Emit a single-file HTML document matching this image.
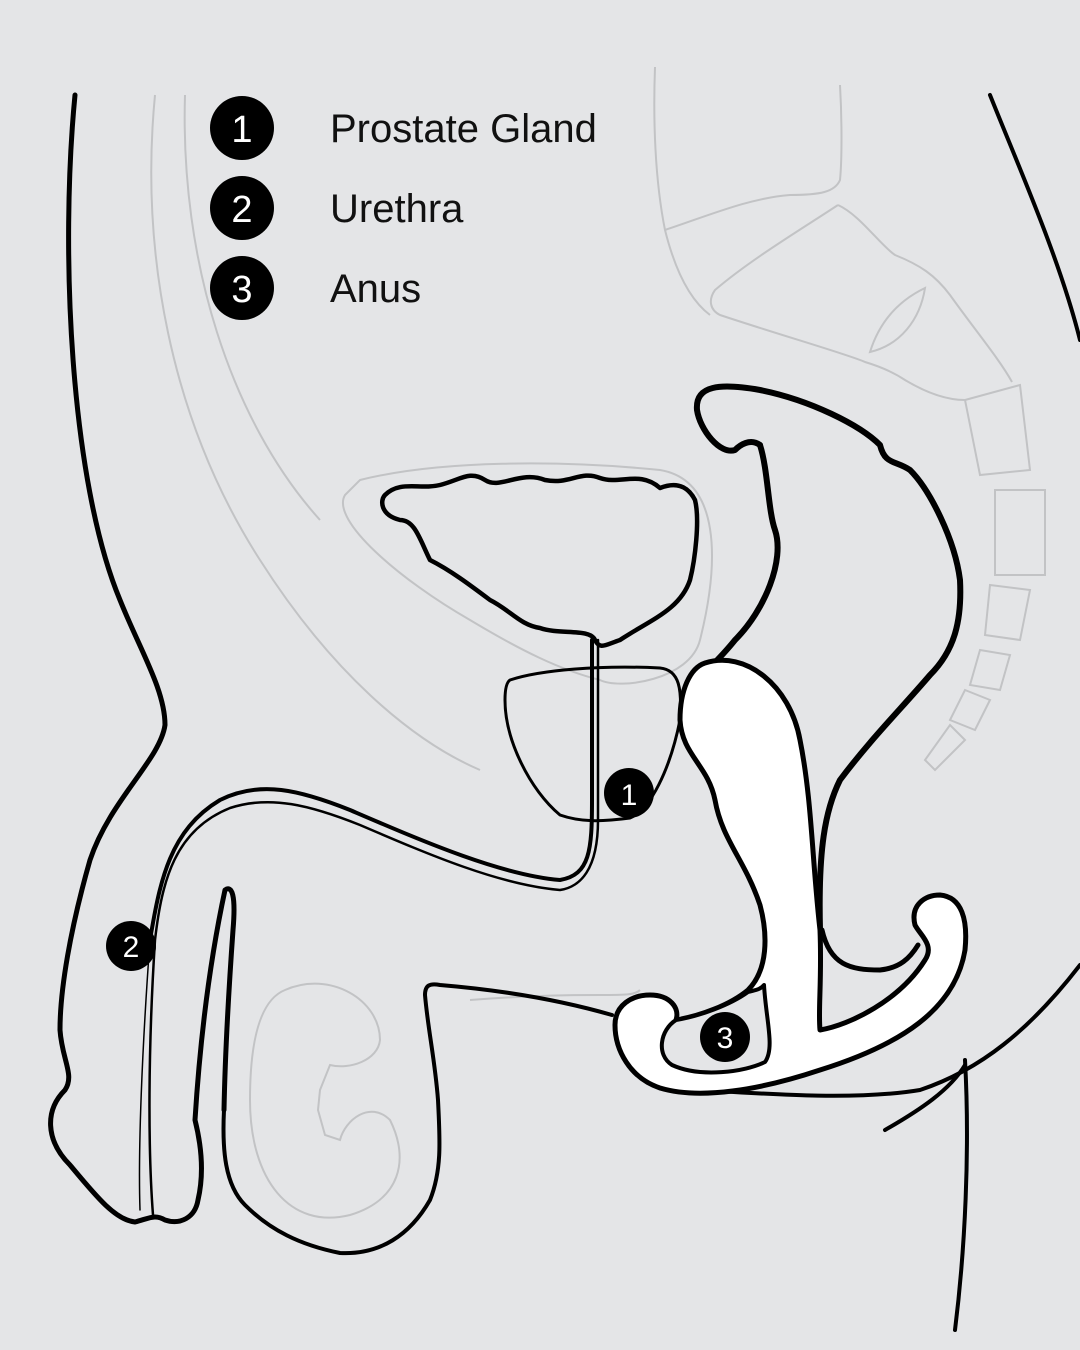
<!DOCTYPE html>
<html><head><meta charset="utf-8"><style>
html,body{margin:0;padding:0;background:#e4e5e7;}
svg{display:block}
</style></head><body>
<svg width="1080" height="1350" viewBox="0 0 1080 1350" xmlns="http://www.w3.org/2000/svg">
<rect width="1080" height="1350" fill="#e4e5e7"/>
<g fill="none" stroke="#c2c3c5" stroke-width="2">
<path d="M155 95 C140 250 170 420 260 560 C330 670 410 740 480 770"/>
<path d="M185 95 C180 260 230 420 320 520"/>
<path d="M360 480 C440 460 560 460 660 470 C720 480 720 560 700 640 C690 680 620 690 600 680 C560 670 520 650 470 620 C400 580 330 520 345 495 Z"/>
<path d="M655 67 C653 120 655 180 665 230 C675 270 690 300 710 315"/>
<path d="M840 85 C842 120 842 160 840 180 C835 192 820 195 790 195 C750 198 710 215 665 230"/>
<path d="M838 205 C800 230 750 260 715 290 C708 300 710 310 720 315 C780 335 850 355 865 362 C875 365 890 370 905 380 C930 395 950 400 965 400"/>
<path d="M838 205 C860 215 880 245 895 255 C920 265 935 275 950 295 C975 330 1000 360 1012 382"/>
<path d="M870 352 C880 320 900 300 925 288 C920 320 900 345 870 352 Z"/>
<path d="M965 400 L1020 385 L1030 470 L980 475 Z"/>
<path d="M995 490 L1045 490 L1045 575 L995 575 Z"/>
<path d="M990 585 L1030 590 L1020 640 L985 635 Z"/>
<path d="M980 650 L1010 655 L1000 690 L970 685 Z"/>
<path d="M965 690 L990 700 L975 730 L950 720 Z"/>
<path d="M950 725 L965 740 L935 770 L925 760 Z"/>
<path d="M470 1000 C600 990 630 1000 640 990"/>
<path d="M285 990 C330 970 380 1000 380 1040 C378 1060 350 1070 330 1065 L320 1090 L318 1110 L325 1135 L340 1140 C345 1120 370 1100 390 1120 C410 1160 400 1200 350 1215 C290 1230 250 1180 250 1100 C250 1040 260 1000 285 990 Z"/>
</g>
<g font-family="Liberation Sans, sans-serif">
<circle cx="242" cy="128" r="32" fill="#000"/><text x="242" y="142" fill="#fff" font-size="38" text-anchor="middle">1</text>
<circle cx="242" cy="208" r="32" fill="#000"/><text x="242" y="222" fill="#fff" font-size="38" text-anchor="middle">2</text>
<circle cx="242" cy="288" r="32" fill="#000"/><text x="242" y="302" fill="#fff" font-size="38" text-anchor="middle">3</text>
<text x="330" y="142" font-size="40" fill="#111">Prostate Gland</text>
<text x="330" y="222" font-size="40" fill="#111">Urethra</text>
<text x="330" y="302" font-size="40" fill="#111">Anus</text>
</g>
<g fill="none" stroke="#000" stroke-linecap="round" stroke-linejoin="round">
<path stroke-width="5" d="M75 95 C60 250 70 480 120 600 C140 650 165 690 165 725 C160 760 110 800 90 860 C70 930 60 990 60 1030 C62 1060 75 1075 65 1090 C45 1110 45 1140 70 1165 C95 1195 115 1220 135 1222 C150 1218 155 1214 165 1220 C180 1225 195 1218 198 1200 C205 1170 200 1140 195 1120 C200 1040 210 960 225 890 C232 885 236 895 233 930 C228 1000 225 1060 224 1110"/>
<path stroke-width="4" d="M224 1110 C222 1150 225 1185 245 1205 C270 1230 300 1245 340 1253 C380 1255 410 1235 430 1200 C442 1170 440 1140 438 1100 C435 1060 428 1030 425 995 C425 985 430 983 440 985 C500 990 560 1000 612 1015"/>
<path stroke-width="4" d="M150 940 C160 880 170 830 220 800 C260 780 300 790 350 810 C420 840 500 875 560 880 C590 875 592 850 592 800 L592 640"/>
<path stroke-width="2.5" d="M153 1215 C148 1150 148 1050 155 940 C162 880 175 830 230 808 C270 795 310 805 360 825 C430 855 500 885 560 890 C580 887 598 870 598 820 L598 640"/>
<path stroke-width="1.5" d="M140 1210 C138 1150 142 1050 150 940"/>
<path stroke-width="4.5" d="M385 495 C400 480 420 490 440 485 C460 480 470 470 485 480 C500 490 520 470 545 480 C570 485 580 470 600 478 C620 485 640 470 660 488 C680 480 690 490 695 500 C700 520 695 560 690 580 C680 610 650 620 620 640 C605 645 600 650 595 640 C590 628 560 635 540 628 C520 625 510 610 490 600 C470 585 450 570 430 560 C420 540 415 520 400 520 C380 515 380 500 385 495 Z"/>
<path stroke-width="3" d="M510 680 C540 670 600 665 660 668 C680 670 682 690 680 720 C670 770 650 810 630 818 C600 822 580 822 560 815 C530 790 505 740 505 700 C505 688 507 682 510 680 Z"/>
<path stroke-width="6" d="M760 445 C768 470 768 510 775 530 C785 560 765 610 735 640 C715 665 700 675 690 690"/>
<path stroke-width="6" d="M760 445 C750 438 740 445 735 450 C720 455 700 430 697 410 C695 385 720 383 760 390 C810 400 860 425 880 445 C885 465 895 460 910 470 C930 490 955 540 960 580 C962 620 955 650 930 675 C900 710 870 740 840 780 C825 810 818 850 820 930"/>
<path stroke-width="4" d="M990 95 C1020 170 1060 260 1080 340"/>
<path stroke-width="4" d="M1080 965 C1030 1030 980 1070 920 1090 C860 1100 780 1095 700 1090"/>
<path stroke-width="4" d="M885 1130 C920 1110 950 1090 965 1065"/>
<path stroke-width="4" d="M965 1060 C970 1150 965 1250 955 1330"/>
<path stroke-width="5" fill="#fff" d="M705 663 C745 650 790 685 800 740 C812 800 812 860 820 930 C822 980 818 1010 820 1030 C850 1025 900 1000 925 960 C935 945 920 935 915 925 C910 905 925 895 940 895 C962 897 968 920 965 950 C955 1010 900 1045 820 1070 C760 1090 700 1100 660 1088 C630 1078 615 1050 615 1025 C615 1005 632 995 650 995 C670 995 680 1008 676 1020 C700 1016 730 1005 748 990 C768 970 768 935 760 905 C745 860 722 840 715 800 C708 765 682 755 680 720 C680 690 690 668 705 663 Z"/>
<path stroke-width="4" fill="#e4e5e7" d="M676 1020 C660 1030 656 1055 672 1065 C700 1078 745 1072 765 1062 C775 1048 766 1020 764 985 C760 990 755 990 748 992 C730 1005 700 1016 676 1020 Z"/>
<path stroke-width="5" d="M822 930 C830 965 850 970 880 970 C900 968 910 958 918 945"/>
</g>
<g font-family="Liberation Sans, sans-serif">
<circle cx="629" cy="793" r="25" fill="#000"/><text x="629" y="805" fill="#fff" font-size="30" text-anchor="middle">1</text>
<circle cx="131" cy="946" r="25" fill="#000"/><text x="131" y="957" fill="#fff" font-size="30" text-anchor="middle">2</text>
<circle cx="725" cy="1037" r="25" fill="#000"/><text x="725" y="1048" fill="#fff" font-size="30" text-anchor="middle">3</text>
</g>
</svg>
</body></html>
